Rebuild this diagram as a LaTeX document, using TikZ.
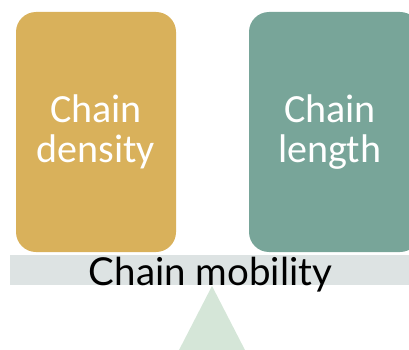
\documentclass[tikz,border=0pt]{standalone}
\usepackage{fontspec}
\setmainfont{Carlito}
\newfontfamily\barfont{Lato}
\definecolor{gold}{HTML}{D9B15B}
\definecolor{teal}{HTML}{78A599}
\definecolor{bargrey}{HTML}{DDE3E3}
\definecolor{pivot}{HTML}{D5E6D8}
\begin{document}
\begin{tikzpicture}[x=1pt,y=-1pt,
  weight/.style={rounded corners=20pt},
  weightlabel/.style={text=white,align=center,font=\fontsize{40}{40}\selectfont}]
\useasboundingbox (0,0) rectangle (409,350);
% fulcrum
\fill[pivot] (212,286) -- (246,352) -- (178,352) -- cycle;
% beam
\fill[bargrey] (10,255) rectangle (409,285);
% weights
\fill[gold,weight] (16,12) rectangle (176,252);
\fill[teal,weight] (249,12) rectangle (420,252);
\node[weightlabel] (density) at (96,132) {Chain\\density};
\node[weightlabel] (length) at (330,132) {Chain\\length};
\node[anchor=base,inner sep=0pt,font=\barfont\fontsize{38.5}{38.5}\selectfont] (mobility) at (210.5,285) {Chain mobility};
\end{tikzpicture}
\end{document}
